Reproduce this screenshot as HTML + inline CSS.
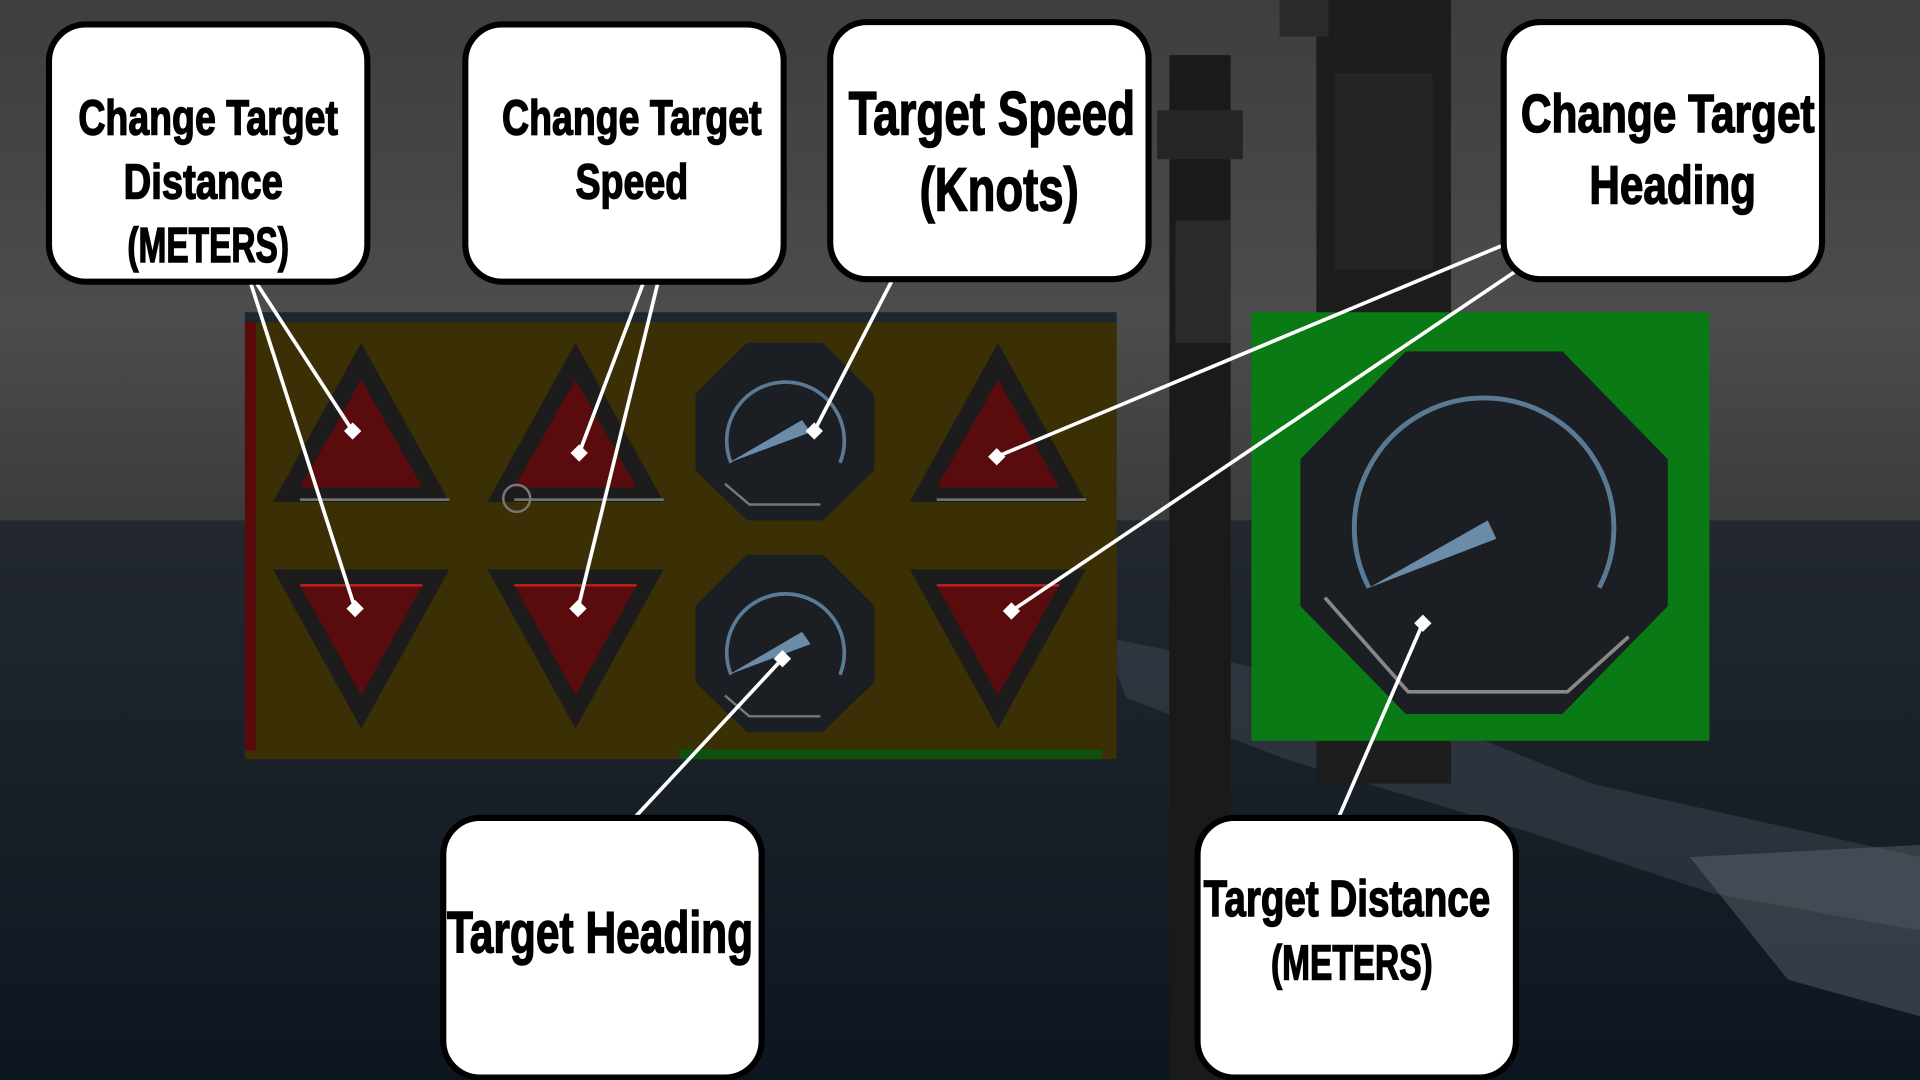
<!DOCTYPE html>
<html><head><meta charset="utf-8"><style>
html,body{margin:0;padding:0;background:#222;overflow:hidden}
svg{display:block}
text{font-family:"Liberation Sans Narrow","Liberation Sans",sans-serif;font-weight:bold;fill:#000;stroke:#000;stroke-width:1.2;text-anchor:middle}
</style></head><body>
<svg width="1920" height="1080" viewBox="0 0 1568 882" xmlns="http://www.w3.org/2000/svg">
<defs>
<linearGradient id="sky" x1="0" y1="0" x2="0" y2="1">
<stop offset="0" stop-color="#3e3e3e"/><stop offset="0.6" stop-color="#4c4c4c"/><stop offset="1" stop-color="#3a3b3d"/></linearGradient>
<linearGradient id="sea" x1="0" y1="0" x2="0" y2="1">
<stop offset="0" stop-color="#22282e"/><stop offset="1" stop-color="#0d1620"/></linearGradient>
</defs>
<rect width="1568" height="430" fill="url(#sky)"/>
<rect y="425" width="1568" height="457" fill="url(#sea)"/>
<path d="M900 520 L1100 560 L1300 640 L1568 700 L1568 760 L1400 730 L1250 680 L1050 620 L920 570Z" fill="#3e4650" opacity="0.5"/>
<path d="M1380 700 L1568 690 L1568 830 L1460 800Z" fill="#6a737b" opacity="0.4"/>
<!-- pillars -->
<rect x="955" y="45" width="50" height="837" fill="#1a1a1a"/>
<rect x="945" y="90" width="70" height="40" fill="#262626"/>
<rect x="960" y="180" width="45" height="100" fill="#2a2a2a"/>
<rect x="1075" y="0" width="110" height="640" fill="#1d1d1d"/>
<rect x="1045" y="0" width="40" height="30" fill="#2a2a2a"/>
<rect x="1090" y="60" width="80" height="160" fill="#252525"/>
<!-- yellow panel -->
<rect x="200" y="255" width="712" height="10" fill="#1c2530"/>
<rect x="200" y="263" width="712" height="357" fill="#3b2f05"/>
<rect x="200" y="263" width="9" height="350" fill="#5a0a0a"/>
<rect x="555" y="612" width="345" height="8" fill="#0d5010"/>
<!-- green panel -->
<rect x="1022" y="255" width="374" height="350" fill="#0a7a14"/>
<!-- triangles -->
<g stroke-linejoin="miter">
<g id="tu"><polygon points="295,280 223,410 367,410" fill="#1c1c1c"/><polygon points="295,310 245,398 345,398" fill="#5a0b0d"/><line x1="245" y1="408" x2="367" y2="408" stroke="#777" stroke-width="2"/></g>
<use href="#tu" x="175"/><use href="#tu" x="520"/>
<g id="td"><polygon points="223,465 367,465 295,595" fill="#1c1c1c"/><polygon points="245,478 345,478 295,568" fill="#5a0b0d"/><line x1="245" y1="478" x2="345" y2="478" stroke="#c02020" stroke-width="2"/></g>
<use href="#td" x="175"/><use href="#td" x="520"/>
</g>
<circle cx="422" cy="407" r="11" fill="none" stroke="#777" stroke-width="2"/>
<!-- small gauges -->
<g id="g1">
<polygon points="610,280 672,280 714,322 714,384 672,425 610,425 568,384 568,322" fill="#1b1e22"/>
<path d="M597,378 A48,48 0 1 1 686,378" fill="none" stroke="#5a7a94" stroke-width="3"/>
<polygon points="595,378 655,343 662,353" fill="#6a8ca8"/>
<polyline points="592,395 612,412 670,412" fill="none" stroke="#777" stroke-width="2"/>
</g>
<use href="#g1" y="173"/>
<!-- big gauge -->
<polygon points="1148,287 1276,287 1362,375 1362,495 1276,583 1148,583 1062,495 1062,375" fill="#1b1e22"/>
<path d="M1118,480 A106,106 0 1 1 1306,480" fill="none" stroke="#5a7a94" stroke-width="4"/>
<polygon points="1118,480 1215,425 1222,440" fill="#6a8ca8"/>
<polyline points="1082,488 1150,565 1280,565 1330,520" fill="none" stroke="#888" stroke-width="3"/>
<!-- connectors -->
<g stroke="#fff" stroke-width="3">
<line x1="210" y1="232" x2="288" y2="352"/><line x1="205" y1="232" x2="290" y2="497"/>
<line x1="525" y1="232" x2="473" y2="370"/><line x1="537" y1="232" x2="472" y2="497"/>
<line x1="728" y1="230" x2="665" y2="352"/>
<line x1="1228" y1="200" x2="814" y2="373"/><line x1="1240" y1="220" x2="826" y2="499"/>
<line x1="518" y1="668" x2="639" y2="538"/><line x1="1093" y1="668" x2="1162" y2="509"/>
</g>
<g fill="#fff">
<rect x="283" y="347" width="10" height="10" transform="rotate(45 288 352)"/>
<rect x="285" y="492" width="10" height="10" transform="rotate(45 290 497)"/>
<rect x="468" y="365" width="10" height="10" transform="rotate(45 473 370)"/>
<rect x="467" y="492" width="10" height="10" transform="rotate(45 472 497)"/>
<rect x="660" y="347" width="10" height="10" transform="rotate(45 665 352)"/>
<rect x="809" y="368" width="10" height="10" transform="rotate(45 814 373)"/>
<rect x="821" y="494" width="10" height="10" transform="rotate(45 826 499)"/>
<rect x="634" y="533" width="10" height="10" transform="rotate(45 639 538)"/>
<rect x="1157" y="504" width="10" height="10" transform="rotate(45 1162 509)"/>
</g>
<!-- callouts -->
<g fill="#fff" stroke="#000" stroke-width="5">
<rect x="40" y="20" width="260" height="210" rx="30"/>
<rect x="380" y="20" width="260" height="210" rx="30"/>
<rect x="678" y="18" width="260" height="210" rx="30"/>
<rect x="1228" y="18" width="260" height="210" rx="30"/>
<rect x="362" y="668" width="260" height="212" rx="30"/>
<rect x="978" y="668" width="260" height="212" rx="30"/>
</g>
<text x="170" y="110" font-size="40" textLength="212" lengthAdjust="spacingAndGlyphs">Change Target</text>
<text x="166" y="162" font-size="40" textLength="130" lengthAdjust="spacingAndGlyphs">Distance</text>
<text x="170" y="214" font-size="40" textLength="132" lengthAdjust="spacingAndGlyphs">(METERS)</text>
<text x="516" y="110" font-size="40" textLength="212" lengthAdjust="spacingAndGlyphs">Change Target</text>
<text x="516" y="162" font-size="40" textLength="92" lengthAdjust="spacingAndGlyphs">Speed</text>
<text x="810" y="110" font-size="50" textLength="234" lengthAdjust="spacingAndGlyphs">Target Speed</text>
<text x="816" y="172" font-size="50" textLength="130" lengthAdjust="spacingAndGlyphs">(Knots)</text>
<text x="1362" y="108" font-size="44" textLength="240" lengthAdjust="spacingAndGlyphs">Change Target</text>
<text x="1366" y="166" font-size="44" textLength="136" lengthAdjust="spacingAndGlyphs">Heading</text>
<text x="490" y="778" font-size="48" textLength="250" lengthAdjust="spacingAndGlyphs">Target Heading</text>
<text x="1100" y="748" font-size="42" textLength="234" lengthAdjust="spacingAndGlyphs">Target Distance</text>
<text x="1104" y="800" font-size="40" textLength="132" lengthAdjust="spacingAndGlyphs">(METERS)</text>
</svg>
</body></html>
